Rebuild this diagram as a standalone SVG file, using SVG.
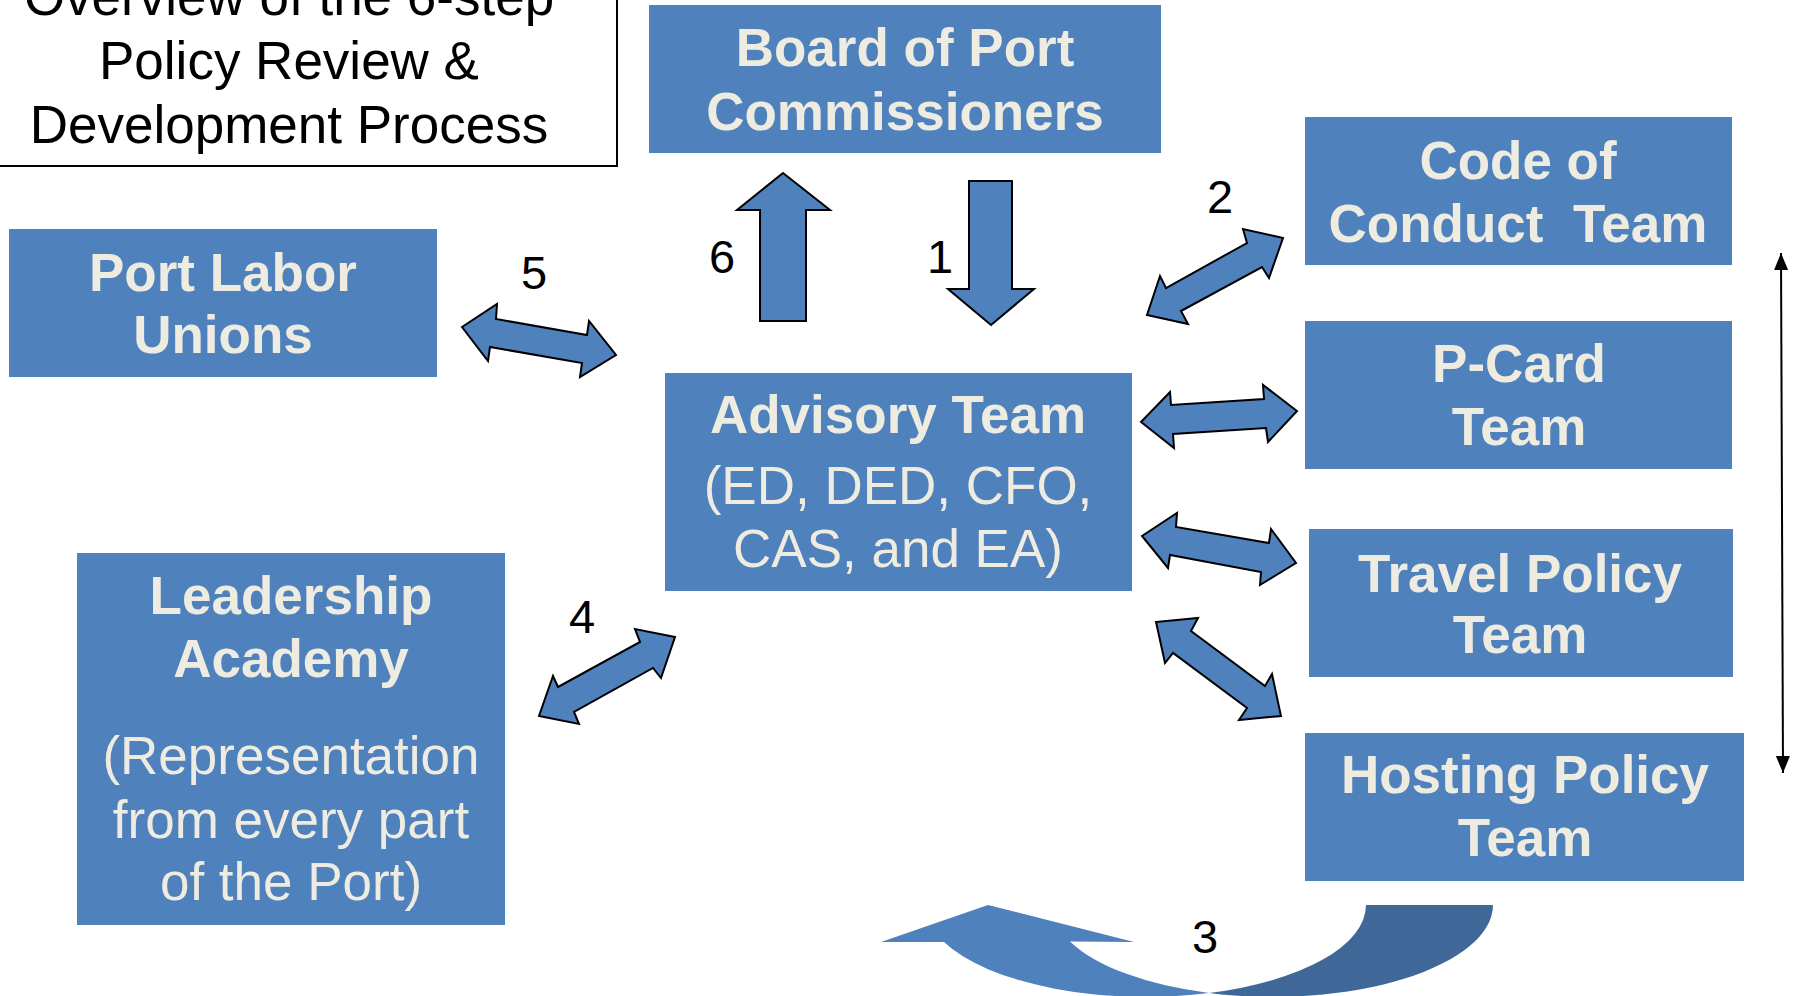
<svg xmlns="http://www.w3.org/2000/svg" width="1796" height="996" viewBox="0 0 1796 996">
<defs>
<style>
.box{fill:#4F81BD;}
.t{font-family:"Liberation Sans",Arial,sans-serif;font-size:53px;fill:#EEECE1;text-anchor:middle;}
.b{font-weight:bold;}
.title{font-family:"Liberation Sans",Arial,sans-serif;font-size:53px;fill:#000;text-anchor:middle;}
.num{font-family:"Liberation Sans",Arial,sans-serif;font-size:47px;fill:#000;text-anchor:middle;}
.blk{fill:#4F81BD;stroke:#000;stroke-width:2;stroke-linejoin:miter;}
</style>
<marker id="ah" viewBox="0 0 17 14" refX="17" refY="7" markerWidth="17" markerHeight="14" markerUnits="userSpaceOnUse" orient="auto-start-reverse">
<path d="M0,0 L17,7 L0,14 Z" fill="#000"/>
</marker>
</defs>
<rect width="1796" height="996" fill="#fff"/>

<g id="title">
<rect x="-2" y="-80" width="619" height="246" fill="#fff" stroke="#000" stroke-width="2"/>
<text class="title" x="289" y="15">Overview of the 6-step</text>
<text class="title" x="289" y="79">Policy Review &amp;</text>
<text class="title" x="289" y="143">Development Process</text>
</g>

<g id="board">
<rect class="box" x="649" y="5" width="512" height="148"/>
<text class="t b" x="905" y="66">Board of Port</text>
<text class="t b" x="905" y="130">Commissioners</text>
</g>

<g id="labor">
<rect class="box" x="9" y="229" width="428" height="148"/>
<text class="t b" x="223" y="291">Port Labor</text>
<text class="t b" x="223" y="353">Unions</text>
</g>

<g id="advisory">
<rect class="box" x="665" y="373" width="467" height="218"/>
<text class="t b" x="898" y="433">Advisory Team</text>
<text class="t" x="898" y="504">(ED, DED, CFO,</text>
<text class="t" x="898" y="567">CAS, and EA)</text>
</g>

<g id="code">
<rect class="box" x="1305" y="117" width="427" height="148"/>
<text class="t b" x="1518" y="179">Code of</text>
<text class="t b" x="1518" y="242" xml:space="preserve">Conduct  Team</text>
</g>

<g id="pcard">
<rect class="box" x="1305" y="321" width="427" height="148"/>
<text class="t b" x="1519" y="382">P-Card</text>
<text class="t b" x="1519" y="445">Team</text>
</g>

<g id="travel">
<rect class="box" x="1309" y="529" width="424" height="148"/>
<text class="t b" x="1520" y="592">Travel Policy</text>
<text class="t b" x="1520" y="653">Team</text>
</g>

<g id="hosting">
<rect class="box" x="1305" y="733" width="439" height="148"/>
<text class="t b" x="1525" y="793">Hosting Policy</text>
<text class="t b" x="1525" y="856">Team</text>
</g>

<g id="leadership">
<rect class="box" x="77" y="553" width="428" height="372"/>
<text class="t b" x="291" y="614">Leadership</text>
<text class="t b" x="291" y="677">Academy</text>
<text class="t" x="291" y="774">(Representation</text>
<text class="t" x="291" y="838">from every part</text>
<text class="t" x="291" y="900">of the Port)</text>
</g>

<g id="connectors">
<!-- 6 up -->
<polygon class="blk" points="783,173 830,210 806,210 806,321 760,321 760,210 737,210"/>
<!-- 1 down -->
<polygon class="blk" points="969,181 1012,181 1012,289 1034,289 991,325 948,289 969,289"/>
<!-- 2 -->
<polygon class="blk" points="1283,238 1243,229 1247,243 1166,288 1160,276 1147,315 1188,324 1181,311 1262,267 1269,278"/>
<!-- P-Card -->
<polygon class="blk" points="1141,422 1170,392 1171,405 1264,399 1263,385 1297,411 1268,442 1266,428 1173,434 1174,448"/>
<!-- Travel -->
<polygon class="blk" points="1142,536 1177,513 1176,527 1269,543 1271,529 1296,563 1260,585 1261,572 1170,555 1168,568"/>
<!-- Hosting -->
<polygon class="blk" points="1156,622 1198,618 1191,631 1265,686 1272,674 1281,716 1239,720 1247,708 1173,653 1165,663"/>
<!-- 4 -->
<polygon class="blk" points="675,637 635,629 640,642 558,687 553,676 539,716 579,724 574,712 653,668 661,678"/>
<!-- 5 -->
<polygon class="blk" points="462,327 497,304 496,319 587,335 589,321 616,355 580,377 582,363 490,347 488,361"/>
<!-- 3 curved -->
<path d="M1366,905 L1493,905 A220.5,92 0 0 1 1209,993 A220.5,92 0 0 0 1366,905 Z" fill="#3F6898"/>
<path d="M881,942 L988,905 L1134,942 L1070,941.4 A220.5,92 0 0 0 1209,993 A220.5,92 0 0 1 944,942 Z" fill="#4F81BD"/>
<!-- right double-headed line -->
<line x1="1781" y1="253" x2="1783" y2="773" stroke="#000" stroke-width="2" marker-start="url(#ah)" marker-end="url(#ah)"/>
</g>

<g id="step-labels">
<text class="num" x="722" y="273">6</text>
<text class="num" x="940" y="273">1</text>
<text class="num" x="1220" y="213">2</text>
<text class="num" x="534" y="289">5</text>
<text class="num" x="582" y="633">4</text>
<text class="num" x="1205" y="953">3</text>
</g>
</svg>
